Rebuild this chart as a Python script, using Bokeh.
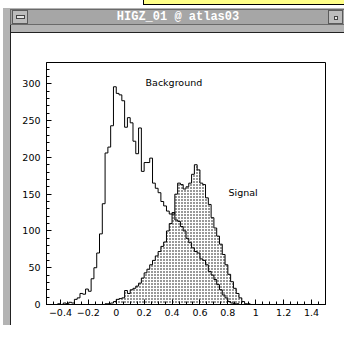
import numpy as np
from bokeh.plotting import figure
from bokeh.models import Range1d, FixedTicker, Label, Div
from bokeh.layouts import column, row
from bokeh.embed import file_html
from bokeh.resources import INLINE

# ---------------- data ----------------
bin_start = -0.5
bin_width = 0.02

background_counts = [
    0, 0, 0, 0, 1, 0, 2, 1, 3, 2,            # -0.50 .. -0.32
    7, 9, 15, 14, 21, 18, 35, 50, 70, 96,     # -0.30 .. -0.12
    137, 206, 214, 243, 296, 287, 285, 277, 241, 254,   # -0.10 .. 0.08
    247, 222, 205, 240, 181, 193, 193, 199, 165, 158,   # 0.10 .. 0.28
    152, 140, 134, 127, 123, 125, 115, 113, 106, 100,   # 0.30 .. 0.48
    90, 84, 77, 72, 70, 62, 60, 54, 45, 40,             # 0.50 .. 0.68
    34, 27, 20, 13, 9, 4, 2, 1, 1, 0,                   # 0.70 .. 0.88
    0, 0, 0, 0, 0, 0, 0, 0, 0, 0,
    0, 0, 0, 0, 0, 0, 0, 0, 0, 0,
    0, 0, 0, 0, 0, 0, 0, 0, 0, 0,
]

signal_counts = [
    0, 0, 0, 0, 0, 0, 0, 0, 0, 0,            # -0.50 .. -0.32
    0, 0, 0, 0, 0, 0, 0, 0, 0, 0,            # -0.30 .. -0.12
    0, 1, 1, 2, 4, 7, 8, 9, 19, 15,          # -0.10 .. 0.08
    20, 22, 25, 29, 36, 43, 48, 54, 60, 66,  # 0.10 .. 0.28
    72, 79, 85, 100, 110, 123, 150, 165, 163, 157,   # 0.30 .. 0.48
    160, 165, 177, 190, 183, 165, 163, 145, 136, 118,  # 0.50 .. 0.68
    104, 93, 82, 68, 54, 41, 31, 22, 15, 9,            # 0.70 .. 0.88
    4, 1, 1, 0, 0, 0, 0, 0, 0, 0,
    0, 0, 0, 0, 0, 0, 0, 0, 0, 0,
    0, 0, 0, 0, 0, 0, 0, 0, 0, 0,
]

y_ticks = [0, 50, 100, 150, 200, 250, 300]
x_ticks = [-0.4, -0.2, 0, 0.2, 0.4, 0.6, 0.8, 1, 1.2, 1.4]
x_tick_labels = ["\u22120.4", "\u22120.2", "0", "0.2", "0.4", "0.6", "0.8", "1", "1.2", "1.4"]

window_title = "HIGZ_01 @ atlas03"
text_background = "Background"
text_signal = "Signal"

# ---------------- helpers ----------------
W, H = 344, 325
TOP_H, LEFT_W = 33, 12


def outline(counts):
    c = np.asarray(counts, dtype=float)
    edges = bin_start + bin_width * np.arange(len(c) + 1)
    xs = np.repeat(edges, 2)
    ys = np.concatenate([[0.0], np.repeat(c, 2), [0.0]])
    return xs, ys


def box(l, t, w, h, bg, border=None):
    b = f"border:1px solid {border};box-sizing:border-box;" if border else ""
    return (f'<div style="position:absolute;left:{l}px;top:{t}px;width:{w}px;height:{h}px;'
            f'background:{bg};{b}"></div>')


# ---------------- window chrome (HTML) ----------------
top_html = (
    f'<div style="position:relative;width:{W}px;height:{TOP_H}px;overflow:hidden;background:white;">'
    + box(143, -1, 202, 6, "#ffff88", "#000")
    + box(3, 8, W, TOP_H - 8, "#b4b4b4")
    + box(10, 9, W, 16, "#a6a6a6", "#6a6a6a")
    + box(12, 10, 16, 14, "#bcbcbc", "#5a5a5a")
    + box(16, 15, 9, 4, "#e4e4e4", "#444")
    + box(328, 10, 15, 14, "#bcbcbc", "#5a5a5a")
    + box(334, 16, 4, 4, "#e8e8e8", "#444")
    + box(10, 32, W, 1, "#222")
    + box(10, 25, 1, 8, "#222")
    + f'<div style="position:absolute;left:6px;top:9px;width:{W}px;height:16px;line-height:16px;'
      f'text-align:center;color:white;font-family:\'Liberation Mono\',monospace;font-weight:bold;'
      f'font-size:12px;white-space:nowrap;">{window_title}</div>'
    + '</div>'
)
top_div = Div(text=top_html, width=W, height=TOP_H, margin=0)

left_html = (
    f'<div style="position:relative;width:{LEFT_W}px;height:{H - TOP_H}px;overflow:hidden;background:white;">'
    + box(3, 0, 7, H - TOP_H, "#b4b4b4")
    + box(10, 0, 1, H - TOP_H, "#222")
    + '</div>'
)
left_div = Div(text=left_html, width=LEFT_W, height=H - TOP_H, margin=0)

# ---------------- figure ----------------
p = figure(width=W - LEFT_W, height=H - TOP_H, x_range=Range1d(-0.5, 1.5), y_range=Range1d(0, 329),
           output_backend="svg", toolbar_location=None,
           min_border_left=46 - LEFT_W, min_border_right=19, min_border_top=62 - TOP_H,
           min_border_bottom=21, margin=0)

p.border_fill_color = "white"
p.background_fill_color = "white"
p.outline_line_color = "black"
p.outline_line_width = 1
p.grid.visible = False

# histograms
sx, sy = outline(signal_counts)
p.patch(sx, sy, fill_color="white", line_color=None,
        hatch_pattern="dot", hatch_scale=3, hatch_weight=0.4, hatch_color="black")
p.line(sx, sy, line_color="black", line_width=1)

bx, by = outline(background_counts)
p.line(bx, by, line_color="black", line_width=1)

p.add_layout(Label(x=0.21, y=302, text=text_background, text_font="DejaVu Sans",
                   text_font_size="9.5px", text_baseline="middle", text_color="black"))
p.add_layout(Label(x=0.805, y=152, text=text_signal, text_font="DejaVu Sans",
                   text_font_size="9.5px", text_baseline="middle", text_color="black"))

# axes
p.xaxis.ticker = FixedTicker(ticks=x_ticks,
                             minor_ticks=list(np.round(np.arange(-0.5, 1.5001, 0.05), 3)))
p.xaxis.major_label_overrides = {t: s for t, s in zip(x_ticks, x_tick_labels)}
p.yaxis.ticker = FixedTicker(ticks=y_ticks, minor_ticks=list(range(0, 330, 10)))

for ax in (p.xaxis, p.yaxis):
    ax.axis_line_color = "black"
    ax.major_tick_line_color = "black"
    ax.minor_tick_line_color = "black"
    ax.major_tick_in = 5
    ax.major_tick_out = 0
    ax.minor_tick_in = 3
    ax.minor_tick_out = 0
    ax.major_label_text_font = "DejaVu Sans"
    ax.major_label_text_font_size = "9.5px"
    ax.major_label_text_color = "black"

p.xaxis.major_label_standoff = 4
p.yaxis.major_label_standoff = 6

layout = column(top_div, row(left_div, p, spacing=0, margin=0), spacing=0, margin=0)

open("out.html", "w").write(file_html(layout, INLINE))
